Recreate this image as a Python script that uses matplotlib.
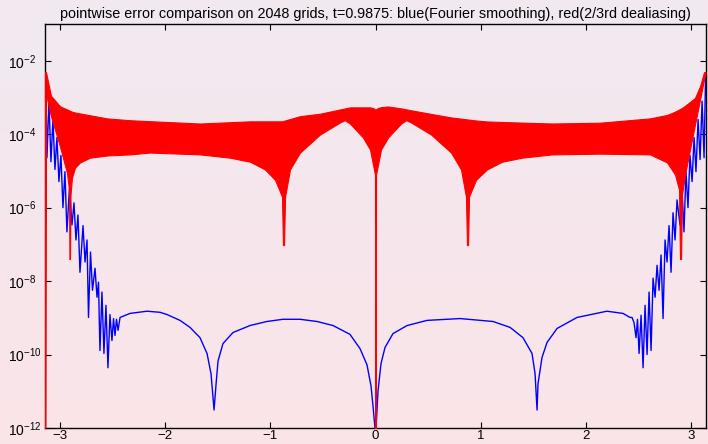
import numpy as np
import matplotlib.pyplot as plt
from matplotlib.ticker import NullLocator

plt.rcParams['font.family'] = ['Liberation Sans', 'DejaVu Sans']
plt.rcParams['mathtext.fontset'] = 'custom'
plt.rcParams['mathtext.rm'] = 'Liberation Sans'
plt.rcParams['mathtext.it'] = 'Liberation Sans'
plt.rcParams['axes.unicode_minus'] = True

# red band (2/3 dealiasing): upper and lower envelope, log10 of error
red_up_x = [-3.1416, -3.133, -3.114, -3.095, -3.067, -3.000, -2.876, -2.553, -2.334,
            -1.669, -1.193, -0.889, -0.718, -0.556, -0.243, -0.033, 0.0, 0.033, 0.138,
            0.395, 0.708, 1.022, 1.659, 2.296, 2.610, 2.800, 2.924, 3.057, 3.086, 3.124, 3.138]
red_up_y = [-2.31, -2.31, -2.69, -2.91, -3.05, -3.24, -3.40, -3.57, -3.62,
            -3.71, -3.65, -3.65, -3.51, -3.46, -3.27, -3.27, -3.33, -3.27, -3.24,
            -3.38, -3.54, -3.65, -3.71, -3.68, -3.57, -3.46, -3.27, -2.97, -2.69, -2.31, -2.31]

red_lo_x = [-3.1416, -3.133, -3.086, -3.000, -2.934, -2.914, -2.910, -2.905, -2.900, -2.886,
            -2.857, -2.810, -2.715, -2.553, -2.334, -2.144, -1.669, -1.383, -1.193, -1.051,
            -0.956, -0.889, -0.880, -0.870, -0.860, -0.813, -0.718, -0.528, -0.338, -0.290,
            -0.243, -0.119, -0.052, -0.024, -0.005, -0.002, 0.002, 0.005, 0.024, 0.052,
            0.119, 0.243, 0.290, 0.338, 0.528, 0.718, 0.813, 0.860, 0.870, 0.880,
            0.889, 0.956, 1.060, 1.203, 1.393, 1.678, 2.134, 2.610, 2.772, 2.848,
            2.886, 2.895, 2.905, 2.914, 2.943, 2.990, 3.038, 3.086, 3.124, 3.138]
red_lo_y = [-13.0, -2.91, -3.51, -4.34, -5.05, -5.51, -7.40, -7.40, -5.65, -5.18,
            -4.91, -4.77, -4.64, -4.58, -4.55, -4.50, -4.55, -4.64, -4.75, -4.96,
            -5.24, -5.70, -7.02, -7.02, -5.70, -4.96, -4.50, -4.01, -3.68, -3.62,
            -3.71, -4.09, -4.42, -4.83, -5.10, -13.0, -13.0, -5.10, -4.83, -4.42,
            -4.09, -3.71, -3.62, -3.68, -4.01, -4.50, -4.96, -5.70, -7.02, -7.02,
            -5.70, -5.24, -4.96, -4.75, -4.64, -4.55, -4.53, -4.55, -4.77, -5.10,
            -5.51, -7.40, -7.40, -5.65, -5.10, -4.42, -3.73, -3.05, -2.50, -2.36]

# blue curve (Fourier smoothing), log10 of error
blue_x = [-3.1416, -3.133, -3.124, -3.105, -3.086, -3.067, -3.048, -3.029, -3.010, -2.991,
          -2.972, -2.953, -2.934, -2.910, -2.886, -2.867, -2.848, -2.829, -2.810, -2.781,
          -2.762, -2.743, -2.729, -2.710, -2.691, -2.667, -2.648, -2.634, -2.620, -2.601,
          -2.582, -2.563, -2.544, -2.525, -2.506, -2.491, -2.477, -2.463, -2.448, -2.429,
          -2.334, -2.173, -2.049, -1.983, -1.859, -1.764, -1.669, -1.602, -1.564, -1.545,
          -1.535, -1.516, -1.497, -1.450, -1.355, -1.193, -1.033, -0.880, -0.718, -0.556,
          -0.404, -0.243, -0.147, -0.081, -0.043, -0.024, -0.005, 0.0,
          0.005, 0.024, 0.052, 0.090, 0.166, 0.300, 0.490, 0.803, 1.117, 1.279,
          1.402, 1.488, 1.517, 1.536, 1.545, 1.583, 1.631, 1.726, 1.916, 2.200,
          2.353, 2.420, 2.439, 2.458, 2.477, 2.491, 2.506, 2.525, 2.544, 2.563,
          2.582, 2.601, 2.620, 2.639, 2.658, 2.677, 2.696, 2.715, 2.734, 2.753,
          2.772, 2.791, 2.810, 2.829, 2.848, 2.867, 2.895, 2.914, 2.933, 2.952,
          2.971, 2.990, 3.010, 3.029, 3.047, 3.067, 3.086, 3.105, 3.124, 3.138]
blue_y = [-2.39, -2.86, -4.64, -3.10, -4.75, -3.60, -4.96, -4.09, -5.29, -4.58,
          -6.00, -5.02, -6.66, -5.46, -6.47, -5.87, -6.88, -6.20, -7.76, -6.49,
          -7.48, -6.88, -8.99, -7.21, -8.25, -7.65, -8.44, -8.03, -9.89, -8.30,
          -9.97, -8.66, -10.36, -8.91, -9.62, -9.02, -9.48, -9.04, -9.34, -8.99,
          -8.88, -8.82, -8.85, -8.91, -9.07, -9.26, -9.54, -9.97, -10.52, -11.18,
          -11.51, -10.80, -10.17, -9.70, -9.40, -9.21, -9.10, -9.04, -9.04, -9.10,
          -9.21, -9.45, -9.84, -10.28, -10.85, -11.40, -12.0, -13.0,
          -12.0, -10.99, -10.25, -9.81, -9.43, -9.21, -9.07, -9.02, -9.10, -9.26,
          -9.54, -9.97, -10.52, -11.51, -10.80, -10.08, -9.67, -9.29, -8.99, -8.82,
          -8.88, -8.99, -8.99, -9.13, -9.54, -9.04, -9.97, -8.93, -10.36, -8.66,
          -10.00, -8.30, -9.89, -7.92, -8.44, -7.57, -8.25, -7.29, -9.02, -6.88,
          -7.48, -6.49, -7.76, -6.14, -6.88, -5.79, -6.47, -5.46, -6.66, -5.02,
          -6.00, -4.58, -5.29, -4.09, -5.02, -3.60, -4.69, -3.10, -4.64, -2.45]

yticks = [1e-12, 1e-10, 1e-8, 1e-6, 1e-4, 1e-2]
ytick_labels = [r'$10^{-12}$', r'$10^{-10}$', r'$10^{-8}$', r'$10^{-6}$', r'$10^{-4}$', r'$10^{-2}$']
xticks = [-3, -2, -1, 0, 1, 2, 3]

W, H = 708, 444
fig = plt.figure(figsize=(W / 100, H / 100), dpi=100)

# soft vertical gradient behind everything
bg = fig.add_axes([0, 0, 1, 1], zorder=0)
top = np.array([241, 233, 241]) / 255
bot = np.array([251, 228, 232]) / 255
t = np.linspace(0, 1, 256)[:, None]
grad = (top * (1 - t) + bot * t)[:, None, :]
bg.imshow(grad, aspect='auto', extent=[0, 1, 0, 1])
bg.axis('off')

ax = fig.add_axes([45.1 / W, 16 / H, 660.5 / W, 404 / H], zorder=1)
ax.set_facecolor('none')
ax.set_yscale('log')

ax.plot(blue_x, 10.0 ** np.array(blue_y), color='blue', lw=1.0, zorder=2)

rx = np.array(red_lo_x)
up = np.interp(rx, red_up_x, red_up_y)
ax.fill_between(rx, 10.0 ** np.array(red_lo_y), 10.0 ** up,
                facecolor='red', edgecolor='red', lw=0.8, zorder=3)

ax.set_xlim(-np.pi, np.pi - 2 * np.pi / 2048)
ax.set_ylim(1e-12, 1e-1)
ax.set_xticks(xticks)
ax.set_yticks(yticks)
ax.set_yticklabels(ytick_labels)
ax.yaxis.set_minor_locator(NullLocator())
ax.tick_params(direction='in', length=4, width=0.8, top=True, right=True,
               labelsize=10, colors='black')
ax.tick_params(axis='x', pad=1.5, labelsize=9.5)
ax.tick_params(axis='y', pad=27)
for lab in ax.get_yticklabels():
    lab.set_horizontalalignment('left')
for s in ax.spines.values():
    s.set_linewidth(1.0)

ax.set_title('pointwise error comparison on 2048 grids, t=0.9875: blue(Fourier smoothing), '
             'red(2/3rd dealiasing)', fontsize=10.4, pad=4)

fig.savefig('out.png', dpi=100)
